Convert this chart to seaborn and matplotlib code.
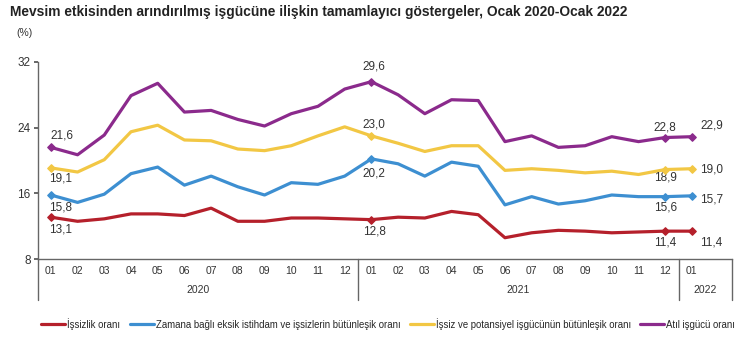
import seaborn as sns
from matplotlib import pyplot as plt
import matplotlib.transforms as mtransforms
import pandas as pd
import numpy as np

sns.set_theme(style='white')
plt.rcParams['font.family'] = ['Liberation Sans', 'DejaVu Sans']

months = ['01', '02', '03', '04', '05', '06', '07', '08', '09', '10', '11', '12',
          '01', '02', '03', '04', '05', '06', '07', '08', '09', '10', '11', '12',
          '01']
years = ['2020', '2021', '2022']

issizlik = [13.1, 12.6, 12.9, 13.5, 13.5, 13.3, 14.2, 12.6, 12.6, 13.0, 13.0, 12.9,
            12.8, 13.1, 13.0, 13.8, 13.4, 10.6, 11.2, 11.5, 11.4, 11.2, 11.3, 11.4,
            11.4]
zamana = [15.8, 14.9, 15.9, 18.4, 19.2, 17.0, 18.1, 16.8, 15.8, 17.3, 17.1, 18.1,
          20.2, 19.6, 18.1, 19.8, 19.3, 14.6, 15.6, 14.7, 15.1, 15.8, 15.6, 15.6,
          15.7]
potansiyel = [19.1, 18.6, 20.1, 23.5, 24.3, 22.5, 22.4, 21.4, 21.2, 21.8, 23.0, 24.1,
              23.0, 22.1, 21.1, 21.8, 21.8, 18.8, 19.0, 18.8, 18.5, 18.7, 18.3, 18.9,
              19.0]
atil = [21.6, 20.7, 23.1, 27.9, 29.4, 25.9, 26.1, 25.0, 24.2, 25.7, 26.6, 28.7,
        29.6, 28.0, 25.7, 27.4, 27.3, 22.3, 23.0, 21.6, 21.8, 22.9, 22.3, 22.8,
        22.9]

names = ['İşsizlik oranı',
         'Zamana bağlı eksik istihdam ve işsizlerin bütünleşik oranı',
         'İşsiz ve potansiyel işgücünün bütünleşik oranı',
         'Atıl işgücü oranı']
colors = ['#b5202b', '#3d8fd1', '#f2c744', '#8b2a8c']

idx = np.arange(len(months))
series = [issizlik, zamana, potansiyel, atil]
df = pd.concat([pd.DataFrame({'t': idx, 'value': v, 'series': n})
                for v, n in zip(series, names)])

fig = plt.figure(figsize=(7.5, 3.52), dpi=100)
ax = fig.add_axes([0.05, 0.264, 0.926, 0.56])

sns.lineplot(data=df, x='t', y='value', hue='series', palette=colors,
             linewidth=2.3, ax=ax, legend=True)

# diamond markers on the labelled points
marked = [0, 12, 23, 24]
for v, c in zip(series, colors):
    ax.scatter([idx[i] for i in marked], [v[i] for i in marked], marker='D',
               s=14, color=c, zorder=5)

def fmt(x):
    return f'{x:.1f}'.replace('.', ',')

# label offsets (dx, dy) for Jan20, Jan21, Dec21, Jan22 per series
offsets = {
    0: [(0.35, -1.5), (0.1, -1.4), (0.0, -1.4), (0.45, -1.4)],
    1: [(0.35, -1.5), (0.1, -1.8), (0.0, -1.3), (0.45, -0.4)],
    2: [(0.35, -1.3), (0.1, 1.4), (0.0, -1.0), (0.45, -0.1)],
    3: [(0.4, 1.4), (0.1, 1.8), (0.0, 1.2), (0.45, 1.4)],
}
for k, v in enumerate(series):
    for j, i in enumerate(marked):
        dx, dy = offsets[k][j]
        ha = 'left' if j == 3 else 'center'
        x0 = idx[i] + dx if j < 3 else idx[i] + 0.3
        ax.text(x0, v[i] + dy, fmt(v[i]), va='center', ha=ha,
                fontsize=8.5, color='#333333')

ax.set_xlim(-0.5, 25.5)
ax.set_ylim(8, 32)
ax.set_yticks([8, 16, 24, 32])
ax.set_xticks(idx)
ax.set_xticklabels(months, fontsize=7.5, color='#333333')
ax.tick_params(axis='y', labelsize=8.5, labelcolor='#333333', length=3,
               left=True, color='#555555', pad=2)
ax.tick_params(axis='x', length=0, pad=5)
ax.set_xlabel('')
ax.set_ylabel('')
sns.despine(ax=ax, top=True, right=True)
for s in ['left', 'bottom']:
    ax.spines[s].set_color('#666666')
    ax.spines[s].set_linewidth(1.0)

# year table below the axis
trans = mtransforms.blended_transform_factory(ax.transData, ax.transAxes)
for xs in [-0.5, 11.5, 23.5, 25.5]:
    ax.plot([xs, xs], [0, -0.21], transform=trans, color='#666666',
            linewidth=1.0, clip_on=False)
for yr, center in zip(years, [5.5, 17.5, 24.5]):
    ax.text(center, -0.155, yr, transform=trans, ha='center', va='center',
            fontsize=7.5, color='#333333')

handles, labels = ax.get_legend_handles_labels()
ax.legend(handles, labels, loc='upper center', bbox_to_anchor=(0.505, -0.255),
          ncol=4, frameon=False, fontsize=6.9, handlelength=2.5,
          handletextpad=0.2, columnspacing=1.0)

fig.text(0.013, 0.965, 'Mevsim etkisinden arındırılmış işgücüne ilişkin tamamlayıcı '
         'göstergeler, Ocak 2020-Ocak 2022', fontsize=9.9, fontweight='bold',
         color='#222222', va='center')
fig.text(0.022, 0.905, '(%)', fontsize=7.5, color='#333333', va='center')

plt.savefig('out.png', dpi=100)
